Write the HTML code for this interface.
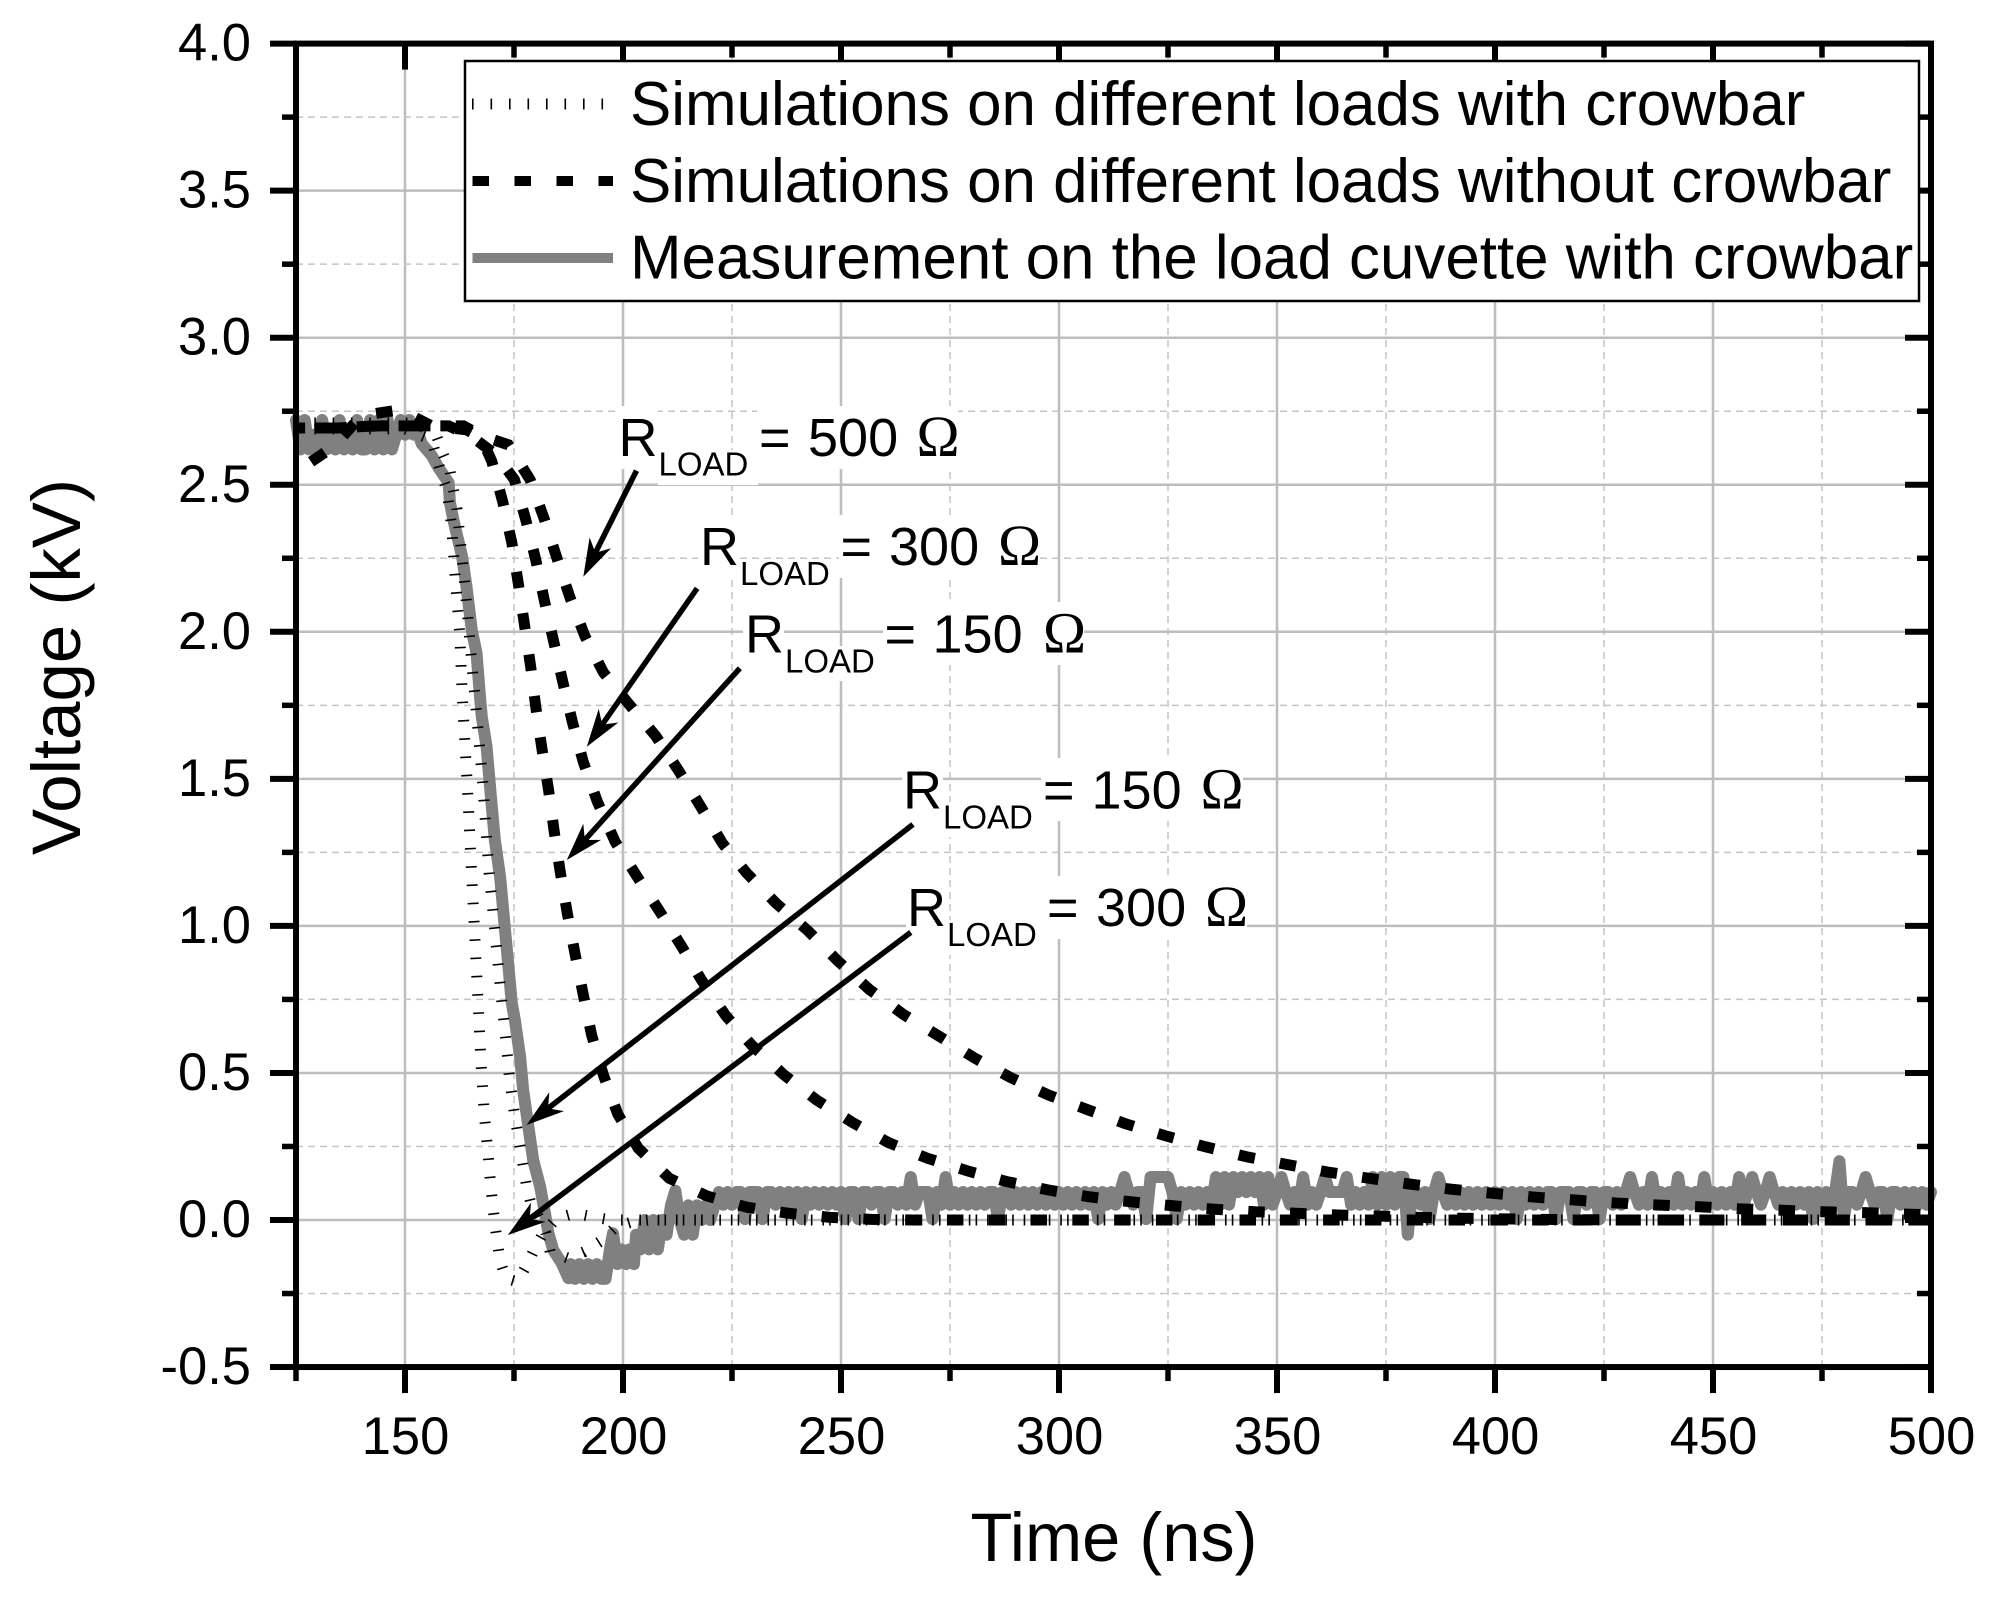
<!DOCTYPE html>
<html lang="en">
<head>
<meta charset="utf-8">
<title>Voltage vs Time</title>
<style>
html,body{margin:0;padding:0;background:#fff;width:1989px;height:1600px;overflow:hidden}
svg{display:block;font-family:"Liberation Sans",Arial,sans-serif;fill:#000}
</style>
</head>
<body>
<svg id="chart" xmlns="http://www.w3.org/2000/svg" width="1989" height="1600" viewBox="0 0 1989 1600">
  <rect x="0" y="0" width="1989" height="1600" fill="#fff"/>
  <g id="grid"></g>
  <g id="label-boxes"></g>
  <g id="series"></g>
  <g id="axes"></g>
  <g id="arrows"></g>

  <g>
    <rect x="465" y="61" width="1454" height="240" fill="#fff" stroke="#000" stroke-width="2.5"/>
    <line x1="472" y1="104" x2="613" y2="104" stroke="#000" stroke-width="11" stroke-dasharray="1.6 16.9"/>
    <line x1="472.5" y1="181" x2="613" y2="181" stroke="#000" stroke-width="10" stroke-dasharray="16.5 25.5"/>
    <line x1="472.5" y1="258" x2="613" y2="258" stroke="#808080" stroke-width="10"/>
    <text x="630" y="125" font-size="61.9">Simulations on different loads with crowbar</text>
    <text x="630" y="202" font-size="61.9">Simulations on different loads without crowbar</text>
    <text x="630" y="278.5" font-size="61.9">Measurement on the load cuvette with crowbar</text>
  </g>

  <text x="1114" y="1561" font-size="68.6" text-anchor="middle">Time (ns)</text>
  <text transform="translate(80 667) rotate(-90)" font-size="69" text-anchor="middle">Voltage (kV)</text>

  <g font-size="54">
    <text><tspan x="618.5" y="456">R</tspan><tspan x="658.5" y="475.5" font-size="33">LOAD</tspan><tspan x="759" y="456">=</tspan><tspan x="808" y="456">500</tspan><tspan x="916.5" y="456" font-size="58" font-family="'Liberation Serif',serif">Ω</tspan></text>
    <text><tspan x="700" y="565">R</tspan><tspan x="740" y="585" font-size="33">LOAD</tspan><tspan x="840.5" y="565">=</tspan><tspan x="889" y="565">300</tspan><tspan x="998" y="565" font-size="58" font-family="'Liberation Serif',serif">Ω</tspan></text>
    <text><tspan x="745" y="652.5">R</tspan><tspan x="785" y="672.5" font-size="33">LOAD</tspan><tspan x="884.5" y="652.5">=</tspan><tspan x="932.5" y="652.5">150</tspan><tspan x="1043" y="652.5" font-size="58" font-family="'Liberation Serif',serif">Ω</tspan></text>
    <text><tspan x="903" y="808.5">R</tspan><tspan x="943" y="828.5" font-size="33">LOAD</tspan><tspan x="1043" y="808.5">=</tspan><tspan x="1091.5" y="808.5">150</tspan><tspan x="1200.5" y="808.5" font-size="58" font-family="'Liberation Serif',serif">Ω</tspan></text>
    <text><tspan x="907" y="926">R</tspan><tspan x="947" y="946" font-size="33">LOAD</tspan><tspan x="1047" y="926">=</tspan><tspan x="1096" y="926">300</tspan><tspan x="1205" y="926" font-size="58" font-family="'Liberation Serif',serif">Ω</tspan></text>
  </g>
</svg>

<script>
// ---- axis tick values ----
const xMajorTicks = [150, 200, 250, 300, 350, 400, 450, 500];
const xMinorTicks = [125, 175, 225, 275, 325, 375, 425, 475];
const yMajorTicks = [-0.5, 0, 0.5, 1, 1.5, 2, 2.5, 3, 3.5, 4];
const yMinorTicks = [-0.25, 0.25, 0.75, 1.25, 1.75, 2.25, 2.75, 3.25, 3.75];
const yTickLabels = ["-0.5", "0.0", "0.5", "1.0", "1.5", "2.0", "2.5", "3.0", "3.5", "4.0"];
const xTickLabels = ["150", "200", "250", "300", "350", "400", "450", "500"];

// ---- no-crowbar simulation, 150 ohm ----
const noCrowbar150Time = [125,126.7,133.6,140,148.9,156.1,164.1,167.5,169.9,172.4,174.5,176,177.4,178.8,180,181.4,182.9,184.2,185.6,187.2,189,190.9,192.8,195.5,198.8,203.5,210.6,219.2,228.5,237.9,247.5,257,266.5,300,350,400,450,500];
const noCrowbar150Volt = [2.53,2.56,2.63,2.735,2.755,2.70,2.687,2.66,2.58,2.443,2.303,2.163,2.024,1.884,1.744,1.603,1.465,1.323,1.184,1.045,0.905,0.765,0.629,0.493,0.36,0.244,0.142,0.082,0.043,0.023,0.009,0.002,0,0,0,0,0,0];

// ---- no-crowbar simulation, 300 ohm ----
const noCrowbar300Time = [125,134,143,152,160,165.3,171,175.1,177.7,180,182,184.1,186.2,188.4,190.9,194.1,198.2,203,208.3,213.5,218,223.6,229.5,236.8,244.4,252.6,260.9,269.8,279,288.2,297.6,306.9,316.4,325.8,335.3,345,354.4,363.8,373.4,382.5,392,401.6,411,430,460,500];
const noCrowbar300Volt = [2.693,2.693,2.70,2.70,2.70,2.664,2.60,2.517,2.381,2.244,2.104,1.967,1.829,1.693,1.557,1.423,1.286,1.173,1.052,0.929,0.816,0.694,0.595,0.495,0.408,0.332,0.263,0.21,0.167,0.13,0.102,0.079,0.062,0.049,0.037,0.028,0.023,0.017,0.0136,0.009,0.006,0.004,0.002,0,0,0];

// ---- no-crowbar simulation, 500 ohm ----
const noCrowbar500Time = [125,134.6,144.2,153.8,163.4,168,173.7,178.7,182,184.9,187.9,191.3,195.5,201.2,207.5,212.8,217.8,222.8,228.4,235.1,242.4,249.2,256.5,264.3,272.4,280.5,288.8,297.6,306.4,315.3,324.5,333.6,343,352.2,361.6,371,380.5,389.8,399.4,408.9,418.3,427.6,437.2,446.8,456.1,465.8,475.2,484.8,494.2,500];
const noCrowbar500Volt = [2.693,2.693,2.70,2.70,2.70,2.664,2.636,2.517,2.381,2.248,2.114,1.984,1.862,1.757,1.646,1.527,1.406,1.281,1.179,1.077,0.984,0.882,0.784,0.699,0.626,0.552,0.485,0.425,0.376,0.327,0.286,0.249,0.215,0.189,0.163,0.142,0.122,0.105,0.091,0.078,0.068,0.058,0.051,0.045,0.038,0.033,0.028,0.025,0.02,0.018];

// ---- crowbar simulation, 150 ohm ----
const crowbar150Time = [125,140,150,156.1,158.4,159.6,160.7,161.6,162.6,163.1,163.8,164.5,165.3,166.8,167.4,168.2,169,169.7,170.6,171.8,173.1,175.8,178,179.8,181.7,184.8,189,193,197.2,250,300,350,400,450,500];
const crowbar150Volt = [2.69,2.69,2.69,2.653,2.534,2.483,2.358,2.168,1.984,1.791,1.606,1.419,1.17,0.731,0.544,0.357,0.232,0.11,-0.015,-0.138,-0.198,-0.21,-0.151,-0.096,-0.045,0.006,0.023,0.011,0,0,0,0,0,0,0];

// ---- crowbar simulation, 300 ohm ----
const crowbar300Time = [125,140,152.7,157.3,158.8,160.3,161.9,163.2,164.4,165.5,166.7,167.8,169,169.3,172.2,173.1,173.9,175,176.4,177.8,178.8,181,182.3,183.3,187.5,191.1,194.7,198.4,202.2,206,250,300,350,400,450,500];
const crowbar300Volt = [2.71,2.71,2.71,2.664,2.602,2.549,2.42,2.237,2.05,1.864,1.676,1.489,1.239,1.179,0.743,0.618,0.493,0.371,0.246,0.122,0.06,0,-0.045,-0.108,-0.13,-0.108,-0.074,-0.023,-0.006,0,0,0,0,0,0,0];

// ---- measurement, head of the trace (time / volts pairs) ----
const measureHeadTime = [125,126,127,128,129,130,131,132,133,134,135,136,137,138,139,140,141,142,143,144,145,146,147,148,149,150,151,152,153,153.8,156.1,157.6,160,160.3,161.1,161.9,163.1,164.1,165.3,166.4,167.2,167.6,168.7,169.7,170.6,171.8,174.5,175.2,176.4,177.1,178.3,179.4,181,182.1,182.9,184,185.9,187.5,188,189,190,191,192,193,194,195,196,197,197.7,198.7,199.7,200.7,201.5,202.5,203,204,205,206,207,208,209,210,211,212,213,214,215,216,217,218,219,220,221,222,223,224];
const measureHeadVolt = [2.72,2.62,2.72,2.62,2.67,2.62,2.72,2.62,2.67,2.62,2.72,2.62,2.67,2.62,2.72,2.62,2.62,2.72,2.62,2.72,2.62,2.72,2.62,2.67,2.72,2.67,2.72,2.67,2.68,2.64,2.6,2.56,2.507,2.44,2.38,2.33,2.256,2.154,2.007,1.928,1.78,1.712,1.61,1.44,1.293,1.168,0.737,0.68,0.555,0.442,0.317,0.204,0.113,0.023,-0.045,-0.102,-0.146,-0.198,-0.15,-0.2,-0.15,-0.2,-0.15,-0.2,-0.15,-0.2,-0.2,-0.1,-0.045,-0.15,-0.1,-0.15,-0.1,-0.15,-0.05,-0.1,0,-0.1,0,-0.1,0,-0.05,0.05,0.1,0,-0.05,0.05,-0.05,0.05,0,0.05,0,0.05,0.095,0.052,0.095];

// ---- measurement, settled trace: one sample per ns starting at 225 ns ----
const measureTailStart = 225;
const measureTailVolt = [
0.052,0.095,0.095,0.003,0.095,
0.095,0.095,0.003,0.095,0.095,0.052,0.095,0.052,0.095,0.052,
0.095,0.003,0.095,0.052,0.095,0.052,0.095,0.052,0.095,0.052,
0.095,0.003,0.095,0.095,0.003,0.095,0.095,0.052,0.095,0.095,
0.003,0.095,0.095,0.052,0.095,0.052,0.146,0.052,0.095,0.095,
0.095,0.003,0.095,0.052,0.146,0.052,0.095,0.052,0.095,0.052,
0.095,0.052,0.095,0.052,0.095,0.095,0.003,0.095,0.095,0.052,
0.095,0.052,0.095,0.052,0.095,0.052,0.095,0.052,0.095,0.052,
0.095,0.052,0.095,0.052,0.095,0.052,0.095,0.052,0.095,0.003,
0.095,0.052,0.095,0.052,0.095,0.146,0.095,0.052,0.095,0.095,
0.003,0.146,0.146,0.146,0.146,0.146,0.095,0.003,0.095,0.052,
0.095,0.052,0.095,0.052,0.095,0.052,0.146,0.052,0.146,0.052,
0.146,0.095,0.146,0.095,0.146,0.095,0.146,0.052,0.146,0.052,
0.095,0.146,0.095,0.052,0.095,0.052,0.146,0.052,0.095,0.052,
0.095,0.146,0.095,0.095,0.095,0.095,0.146,0.052,0.095,0.052,
0.095,0.052,0.146,0.052,0.146,0.052,0.146,0.052,0.146,0.146,
-0.05,0.095,0.095,0.052,0.095,0.003,0.095,0.146,0.095,0.052,
0.095,0.052,0.095,0.052,0.095,0.052,0.095,0.052,0.095,0.052,
0.095,0.052,0.095,0.052,0.095,0.003,0.095,0.052,0.095,0.052,
0.095,0.052,0.095,0.095,0.003,0.095,0.095,0.095,0.003,0.095,
0.095,0.052,0.095,0.095,0.003,0.095,0.095,0.052,0.095,0.052,
0.095,0.146,0.095,0.052,0.095,0.052,0.146,0.052,0.095,0.052,
0.095,0.052,0.146,0.052,0.095,0.052,0.095,0.052,0.146,0.052,
0.095,0.052,0.095,0.052,0.095,0.052,0.146,0.052,0.095,0.146,
0.095,0.052,0.095,0.146,0.095,0.052,0.095,0.052,0.095,0.052,
0.095,0.052,0.095,0.003,0.095,0.052,0.095,0.052,0.095,0.2,
0.003,0.095,0.095,0.052,0.095,0.146,0.095,0.052,0.095,0.095,
0.003,0.095,0.095,0.052,0.095,0.052,0.095,0.052,0.095,0.052,0.095
];

// ---- annotation arrows: tail and tip in data units ----
const arrowTailTime = [203.1,217,226.8,266.5,266];
const arrowTailVolt = [2.548,2.148,1.876,1.345,0.978];
const arrowTipTime  = [190.9,191.7,187.1,177.9,173.6];
const arrowTipVolt  = [2.187,1.609,1.224,0.323,-0.051];

// ---- axis functions ----
function X(t){ return 405 + 4.36 * (t - 150); }
function Y(v){ return 1220 - 294.1 * v; }

const NS = 'http://www.w3.org/2000/svg';
function make(tag, parent, attrs){
  const el = document.createElementNS(NS, tag);
  for (const k in attrs) el.setAttribute(k, attrs[k]);
  parent.appendChild(el);
  return el;
}
function pathFrom(ts, vs){
  let d = '';
  for (let i = 0; i < ts.length; i++) d += (i ? 'L' : 'M') + X(ts[i]).toFixed(2) + ' ' + Y(vs[i]).toFixed(2);
  return d;
}
// arc length along a polyline up to the sample nearest the given time
function lengthTo(ts, vs, t){
  let s = 0;
  for (let i = 1; i < ts.length && ts[i] <= t; i++) s += Math.hypot(X(ts[i]) - X(ts[i-1]), Y(vs[i]) - Y(vs[i-1]));
  return s;
}
const DASH = 16.5, PERIOD = 41.8;
function dashedSeries(parent, ts, vs, anchorTime){
  return make('path', parent, {
    d: pathFrom(ts, vs), fill:'none', stroke:'#000', 'stroke-width':11,
    'stroke-dasharray': DASH + ' ' + (PERIOD - DASH),
    'stroke-dashoffset': (DASH / 2 - lengthTo(ts, vs, anchorTime)).toFixed(2)
  });
}

const gGrid = document.getElementById('grid');
const gSeries = document.getElementById('series');
const gAxes = document.getElementById('axes');
const gArrows = document.getElementById('arrows');
const gBoxes = document.getElementById('label-boxes');
const x0 = X(125), x1 = X(500), y0 = Y(-0.5), y1 = Y(4);

// grid
xMajorTicks.slice(0, -1).forEach(function(t){
  const l = make('line', gGrid, {x1:X(t), x2:X(t), y1:y0, y2:y1, stroke:'#bdbdbd', 'stroke-width':2.5});
  
  
});
xMinorTicks.slice(1).forEach(function(t){
  const l = make('line', gGrid, {x1:X(t), x2:X(t), y1:y0, y2:y1, stroke:'#c4c4c4', 'stroke-width':1.5, 'stroke-dasharray':'7 5'});
  
  
});
yMajorTicks.slice(1, -1).forEach(function(v){
  const l = make('line', gGrid, {x1:x0, x2:x1, y1:Y(v), y2:Y(v), stroke:'#bdbdbd', 'stroke-width':2.5});
  
  
});
yMinorTicks.forEach(function(v){
  const l = make('line', gGrid, {x1:x0, x2:x1, y1:Y(v), y2:Y(v), stroke:'#c4c4c4', 'stroke-width':1.5, 'stroke-dasharray':'7 5'});
  
  
});

// white backgrounds behind the annotation text (R glyph, LOAD subscript, "= value ohm")
[
 [617,406,41,63],[658,450,100,35],[757,406,201,63],
 [698,515,41,63],[739,559,100,35],[839,515,201,63],
 [743,602,41,63],[784,646,100,35],[883,602,201,63],
 [902,758,41,63],[943,802,100,35],[1041,758,202,63],
 [906,876,41,63],[947,920,100,35],[1045,876,202,63]
].forEach(function(b){
  const r = make('rect', gBoxes, {x:b[0], y:b[1], width:b[2], height:b[3], fill:'#fff'});
  
  
});

// measurement
const measureTailTime = measureTailVolt.map(function(_, i){ return measureTailStart + i; });
const measurePath = make('path', gSeries, {
  d: pathFrom(measureHeadTime.concat(measureTailTime), measureHeadVolt.concat(measureTailVolt)),
  fill:'none', stroke:'#808080', 'stroke-width':12, 'stroke-linejoin':'round', 'stroke-linecap':'round'
});



// crowbar simulations: very short dashes on a wide stroke give perpendicular ticks
const crowbar150 = make('path', gSeries, {d:pathFrom(crowbar150Time, crowbar150Volt), fill:'none', stroke:'#000', 'stroke-width':11, 'stroke-dasharray':'1.6 16.7'});


const crowbar300 = make('path', gSeries, {d:pathFrom(crowbar300Time, crowbar300Volt), fill:'none', stroke:'#000', 'stroke-width':11, 'stroke-dasharray':'1.6 16.7'});



// no-crowbar simulations, phase-locked to a dash
const nc150 = dashedSeries(gSeries, noCrowbar150Time, noCrowbar150Volt, 237.9);


const nc300 = dashedSeries(gSeries, noCrowbar300Time, noCrowbar300Volt, 279);


const nc500 = dashedSeries(gSeries, noCrowbar500Time, noCrowbar500Volt, 324.5);



// arrows
arrowTipTime.forEach(function(_, i){
  const ax = X(arrowTailTime[i]), ay = Y(arrowTailVolt[i]), bx = X(arrowTipTime[i]), by = Y(arrowTipVolt[i]);
  const len = Math.hypot(bx - ax, by - ay), ux = (bx - ax) / len, uy = (by - ay) / len, nx = -uy, ny = ux;
  const line = make('line', gArrows, {x1:ax, y1:ay, x2:bx - ux * 24, y2:by - uy * 24, stroke:'#000', 'stroke-width':5.5});
  
  
  const pts = [[bx, by], [bx - ux * 38 + nx * 12, by - uy * 38 + ny * 12], [bx - ux * 27, by - uy * 27], [bx - ux * 38 - nx * 12, by - uy * 38 - ny * 12]];
  const head = make('polygon', gArrows, {points: pts.map(function(p){ return p[0].toFixed(1) + ',' + p[1].toFixed(1); }).join(' '), fill:'#000'});
  
  
});

// axis frame
const frame = make('rect', gAxes, {x:x0, y:y1, width:x1 - x0, height:y0 - y1, fill:'none', stroke:'#000', 'stroke-width':6});



// x ticks
xMajorTicks.forEach(function(t, i){
  const a = make('line', gAxes, {x1:X(t), x2:X(t), y1:y0, y2:y0 + 26, stroke:'#000', 'stroke-width':6});
  
  
  const b = make('line', gAxes, {x1:X(t), x2:X(t), y1:y1, y2:y1 + 26, stroke:'#000', 'stroke-width':6});
  
  
  const lab = make('text', gAxes, {x:X(t) + 0.5, y:1454, 'font-size':52.5, 'text-anchor':'middle'});
  lab.textContent = xTickLabels[i];
  
  
});
xMinorTicks.forEach(function(t){
  const a = make('line', gAxes, {x1:X(t), x2:X(t), y1:y0, y2:y0 + 14, stroke:'#000', 'stroke-width':5.5});
  
  
  const b = make('line', gAxes, {x1:X(t), x2:X(t), y1:y1, y2:y1 + 14, stroke:'#000', 'stroke-width':5.5});
  
  
});

// y ticks
yMajorTicks.forEach(function(v, i){
  const a = make('line', gAxes, {x1:x0, x2:x0 - 26, y1:Y(v), y2:Y(v), stroke:'#000', 'stroke-width':6});
  
  
  const b = make('line', gAxes, {x1:x1, x2:x1 - 26, y1:Y(v), y2:Y(v), stroke:'#000', 'stroke-width':6});
  
  
  const lab = make('text', gAxes, {x:251, y:Y(v) + 17, 'font-size':52.5, 'text-anchor':'end'});
  lab.textContent = yTickLabels[i];
  
  
});
yMinorTicks.forEach(function(v){
  const a = make('line', gAxes, {x1:x0, x2:x0 - 14, y1:Y(v), y2:Y(v), stroke:'#000', 'stroke-width':5.5});
  
  
  const b = make('line', gAxes, {x1:x1, x2:x1 - 14, y1:Y(v), y2:Y(v), stroke:'#000', 'stroke-width':5.5});
  
  
});
</script>
</body>
</html>
